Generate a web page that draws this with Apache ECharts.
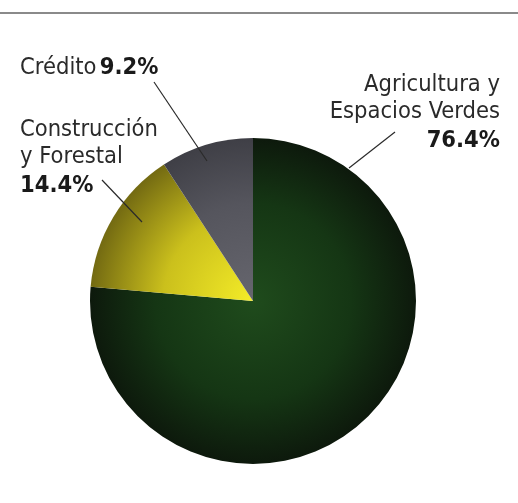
<!DOCTYPE html>
<html>
<head>
<meta charset="utf-8">
<script src="https://cdn.jsdelivr.net/npm/echarts@6/dist/echarts.min.js"></script>
<style>
html,body{margin:0;padding:0;background:#fff;}
#main{width:518px;height:503px;}
</style>
</head>
<body>
<div id="main"></div>
<script>
// Data
const categories = ['Agricultura y\nEspacios Verdes', 'Construcción\ny Forestal', 'Crédito'];
const values = [76.4, 14.4, 9.2];
const valueLabels = ['76.4%', '14.4%', '9.2%'];

const CX = 253, CY = 301, R = 163;
const FONT = '"Liberation Sans Narrow", "DejaVu Sans Condensed", sans-serif';

function radial(stops) {
  return {
    type: 'radial', x: CX, y: CY, r: R, global: true,
    colorStops: stops.map(s => ({offset: s[0], color: s[1]}))
  };
}
const fills = [
  radial([[0, '#1f4b1c'], [0.6, '#153614'], [1, '#0d190c']]),
  radial([[0, '#f4ec28'], [0.55, '#cbc01c'], [1, '#736a12']]),
  radial([[0, '#66666e'], [0.6, '#55555d'], [1, '#3f3f46']])
];

// label placement (text box anchor), and leader line endpoints
const labelSpec = [
  {x: 500, y: 71, align: 'right', line: [[395, 132], [349, 168]]},
  {x: 20, y: 116, align: 'left', line: [[102, 180], [142, 222]]},
  {x: 20, y: 52, align: 'left', line: [[154, 82], [207, 161]]}
];

const chart = echarts.init(document.getElementById('main'), null, {renderer: 'canvas'});

const sliceData = categories.map((c, i) => ({
  name: c, value: values[i], itemStyle: {color: fills[i]}
}));
const labelData = categories.map((c, i) => ({
  name: c,
  value: values[i],
  label: {
    formatter: i === 2
      ? '{n|' + c + '} {b|' + valueLabels[i] + '}'
      : '{n|' + c + '}\n{b|' + valueLabels[i] + '}',
    align: labelSpec[i].align
  }
}));

chart.setOption({
  animation: false,
  graphic: [{
    type: 'line', shape: {x1: 0, y1: 13, x2: 518, y2: 13},
    style: {stroke: '#8a8a8a', lineWidth: 2}
  }],
  series: [{
    type: 'pie',
    z: 2,
    center: [CX, CY],
    radius: [0, R],
    startAngle: 90,
    clockwise: true,
    silent: true,
    data: sliceData,
    itemStyle: {borderWidth: 0},
    label: {show: false},
    labelLine: {show: false}
  }, {
    type: 'pie',
    z: 5,
    center: [CX, CY],
    radius: [0, R],
    startAngle: 90,
    clockwise: true,
    silent: true,
    data: labelData,
    itemStyle: {color: 'rgba(0,0,0,0)', borderWidth: 0},
    label: {
      show: true,
      position: 'outside',
      overflow: 'none',
      width: 300,
      rich: {
        n: {fontFamily: FONT, fontSize: 23.5, color: '#2a2a2a', lineHeight: 27},
        b: {fontFamily: FONT, fontSize: 23.5, fontWeight: 'bold', color: '#1a1a1a', lineHeight: 31}
      }
    },
    labelLine: {show: true, lineStyle: {color: '#2a2a2a', width: 1.2}},
    labelLayout: function (p) {
      const s = labelSpec[p.dataIndex];
      return {
        x: s.x, y: s.y, align: s.align, verticalAlign: 'top',
        labelLinePoints: s.line
      };
    }
  }]
});
</script>
</body>
</html>
